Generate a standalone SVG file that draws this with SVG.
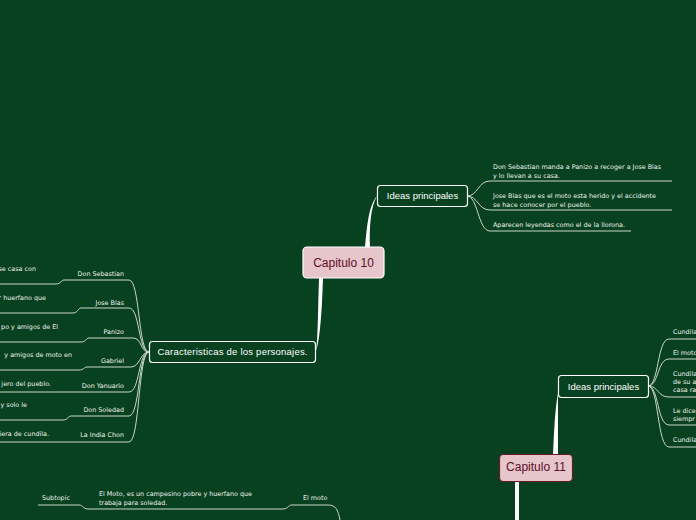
<svg xmlns="http://www.w3.org/2000/svg" width="696" height="520" viewBox="0 0 696 520">
<style>
.bg{fill:#08411f}
.ln{fill:none;stroke:#c9d6c9;stroke-width:1}
.thick{fill:#ffffff}
.sub{fill:none;stroke:#ffffff;stroke-width:1.2}
.main{fill:#e6c5cb;stroke:#ffffff;stroke-width:1.2}
.t{font-family:"DejaVu Sans",Verdana,sans-serif;font-size:6.4px;fill:#eef3ee}
.ts{font-family:"Liberation Sans",Arial,sans-serif;font-size:9.5px;fill:#ffffff}
.tm{font-family:"Liberation Sans",Arial,sans-serif;font-size:12px;fill:#5c0f26}
</style>
<rect class="bg" x="0" y="0" width="696" height="520"/>
<g id="connectors">
<path class="thick" d="M365,248 C367,225 369,205 377,196 C371,206 369,226 370,248 Z"/>
<path class="thick" d="M319,278 L323,278 C322,310 320,340 316,351 C318,340 318,310 319,278 Z"/>
<path class="thick" d="M553,455 C554,430 555,410 558,393 C558,410 558,430 558,455 Z"/>
<path class="thick" d="M515,481 L519,481 L519,520 L515,520 Z"/>
<path class="ln" d="M467,196 C478,196 478,181 490,181 L672,181"/>
<path class="ln" d="M467,196 C478,196 478,210 490,210 L672,210"/>
<path class="ln" d="M467,196 C478,196 478,231 490,231 L631,231"/>
<path class="ln" d="M149,352 C138,352 140,280 129,280 L64,280 C61,280 61,284 56,284 L0,284"/>
<path class="ln" d="M149,352 C138,352 140,308 129,308 L81,308 C78,308 78,313 73,313 L0,313"/>
<path class="ln" d="M149,352 C140,352 142,338 133,338 L89,338 C86,338 86,342 81,342 L0,342"/>
<path class="ln" d="M149,352 C140,352 140,367 131,367 L87,367 C84,367 84,370 79,370 L0,370"/>
<path class="ln" d="M149,352 C138,352 140,392 129,392 L0,392"/>
<path class="ln" d="M149,352 C138,352 140,416 129,416 L71,416 C68,416 68,420 63,420 L0,420"/>
<path class="ln" d="M149,352 C138,352 140,442 129,442 L0,442"/>
<path class="ln" d="M648,386 C659,386 657,339 669,339 L696,339"/>
<path class="ln" d="M648,386 C659,386 657,359 669,359 L696,359"/>
<path class="ln" d="M648,386 C659,386 657,397 669,397 L696,397"/>
<path class="ln" d="M648,386 C659,386 657,425 669,425 L696,425"/>
<path class="ln" d="M648,386 C659,386 657,447 669,447 L696,447"/>
<path class="ln" d="M340,520 C338,510 336,505 328,505 L292,505 C288,505 288,509 283,509 L88,509 C83,509 83,505 79,505 L38,505"/>
</g>
<g id="capitulo10">
<rect class="main" x="303" y="247" width="81" height="31" rx="4"/>
<text class="tm" x="343.5" y="267" text-anchor="middle">Capitulo 10</text>
</g>
<g id="ideas1">
<rect class="sub" x="377.5" y="185.5" width="90" height="21" rx="3"/>
<text class="ts" x="422.5" y="199" text-anchor="middle">Ideas principales</text>
</g>
<g id="ideas1-items">
<text class="t" x="493" y="169">Don Sebastian manda a Panizo a recoger a Jose Blas</text>
<text class="t" x="493" y="177.5">y lo llevan a su casa.</text>
<text class="t" x="493" y="198">Jose Blas que es el moto esta herido y el accidente</text>
<text class="t" x="493" y="206.5">se hace conocer por el pueblo.</text>
<text class="t" x="493" y="227">Aparecen leyendas como el de la llorona.</text>
</g>
<g id="caracteristicas">
<rect class="sub" x="149.5" y="341.5" width="166" height="21" rx="3"/>
<text class="ts" x="232.5" y="355" text-anchor="middle" textLength="150">Caracteristicas de los personajes.</text>
</g>
<g id="personajes">
<text class="t" x="124" y="276" text-anchor="end">Don Sebastian</text>
<text class="t" x="36" y="271" text-anchor="end">se casa con</text>
<text class="t" x="124" y="305" text-anchor="end">Jose Blas</text>
<text class="t" x="46" y="300" text-anchor="end">r huerfano que</text>
<text class="t" x="124" y="334" text-anchor="end">Panizo</text>
<text class="t" x="58" y="329" text-anchor="end">po y amigos de El</text>
<text class="t" x="124" y="363" text-anchor="end">Gabriel</text>
<text class="t" x="72" y="357" text-anchor="end">y amigos de moto en</text>
<text class="t" x="124" y="388" text-anchor="end">Don Yanuario</text>
<text class="t" x="51" y="386" text-anchor="end">jero del pueblo.</text>
<text class="t" x="124" y="412" text-anchor="end">Don Soledad</text>
<text class="t" x="0.5" y="407">y solo le</text>
<text class="t" x="124" y="437" text-anchor="end">La India Chon</text>
<text class="t" x="49" y="436" text-anchor="end">iera de cundila.</text>
</g>
<g id="capitulo11">
<rect x="499.5" y="454.5" width="73" height="27" rx="4" fill="#e6c5cb" stroke="#6b1a2e" stroke-width="1.2"/>
<text class="tm" x="536" y="471" text-anchor="middle">Capitulo 11</text>
</g>
<g id="ideas2">
<rect class="sub" x="558.5" y="375.5" width="90" height="22" rx="3"/>
<text class="ts" x="603.5" y="389.5" text-anchor="middle">Ideas principales</text>
</g>
<g id="ideas2-items">
<text class="t" x="673" y="334">Cundila</text>
<text class="t" x="673" y="355">El moto</text>
<text class="t" x="673" y="376">Cundila</text>
<text class="t" x="673" y="384">de su a</text>
<text class="t" x="673" y="392">casa ra</text>
<text class="t" x="673" y="413">Le dice</text>
<text class="t" x="673" y="421">siempr</text>
<text class="t" x="673" y="442">Cundila</text>
</g>
<g id="elmoto">
<text class="t" x="303" y="500">El moto</text>
<text class="t" x="99" y="496">El Moto, es un campesino pobre y huerfano que</text>
<text class="t" x="99" y="504.5">trabaja para soledad.</text>
<text class="t" x="42" y="500">Subtopic</text>
</g>
</svg>
